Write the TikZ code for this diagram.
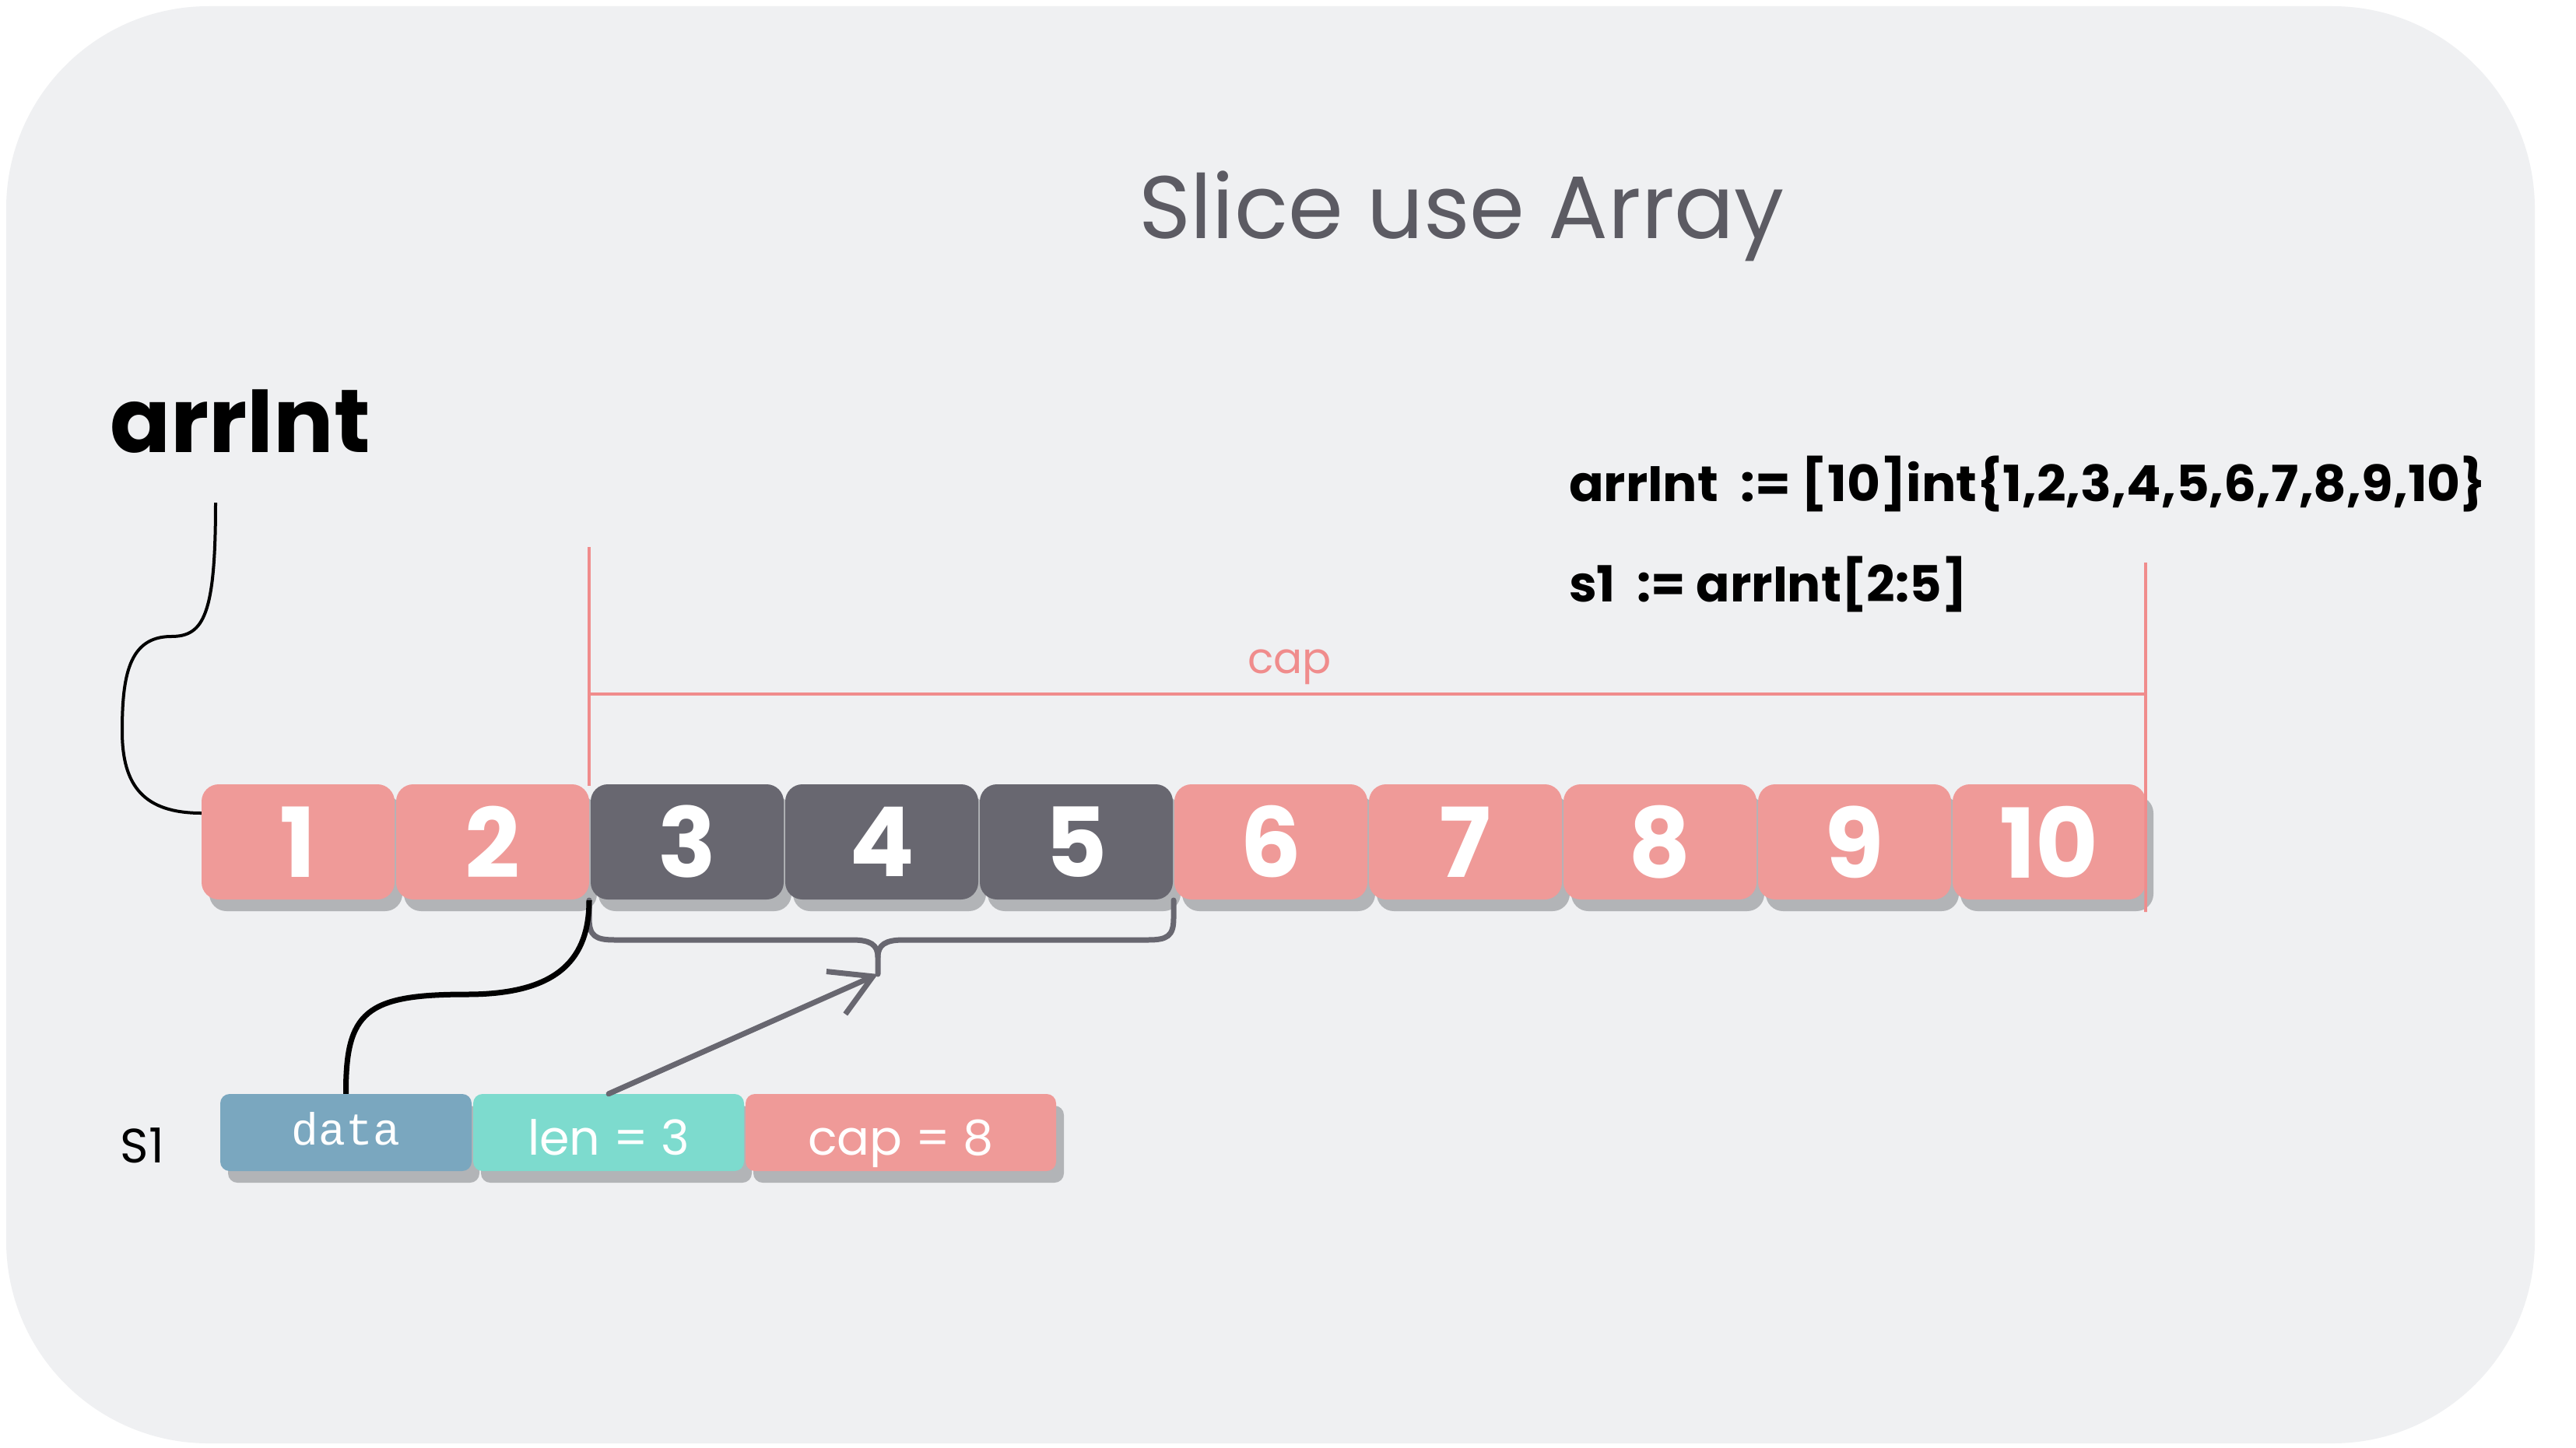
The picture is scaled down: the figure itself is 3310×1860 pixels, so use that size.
\documentclass[tikz,border=0pt]{standalone}
\usepackage{fontspec}
\setmainfont{Poppins}
\newfontfamily\monof{Liberation Mono}
\usetikzlibrary{arrows.meta,shadows}
\definecolor{bgc}{RGB}{239,240,242}
\definecolor{pinkc}{RGB}{239,154,152}
\definecolor{darkc}{RGB}{104,103,112}
\definecolor{shadc}{RGB}{178,180,183}
\definecolor{tealc}{RGB}{125,219,206}
\definecolor{bluec}{RGB}{122,167,191}
\definecolor{titlec}{RGB}{92,91,99}
\definecolor{capc}{RGB}{240,140,140}
\tikzset{
  shad/.style={drop shadow={shadow xshift=10pt,shadow yshift=-15pt,fill=shadc,opacity=1}},
  arrbox/.style={rounded corners=22pt,minimum width=248pt,minimum height=148pt,inner sep=0pt,
    text=white,font=\fontsize{124}{130}\selectfont\bfseries,shad},
  sbox/.style={rounded corners=12pt,minimum height=99pt,inner sep=0pt,text=white,shad},
  capline/.style={draw=capc,line width=3.5pt},
  bracec/.style={draw=darkc,line width=7pt,line cap=round,line join=round},
}
\begin{document}
\begin{tikzpicture}[x=1pt,y=-1pt]
\useasboundingbox (0,0) rectangle (3310,1860);
\fill[white] (0,0) rectangle (3310,1860);
\fill[bgc,rounded corners=260pt] (8,8) rectangle (3257,1855);

% title and labels
\node[text=titlec,font=\fontsize{114}{130}\selectfont,anchor=base] (title) at (1878,306) {Slice use Array};
\node[font=\fontsize{115}{130}\selectfont\bfseries,anchor=base west,inner sep=0pt] (arrint) at (141,581) {arrInt};
\node[font=\fontsize{64}{70}\selectfont\bfseries,anchor=base west,inner sep=0pt] (code1) at (2016,644) {\scalebox{1.03}[1]{arrInt\hspace{14pt} := [10]int\{1,2,3,4,5,6,7,8,9,10\}}};
\node[font=\fontsize{64}{70}\selectfont\bfseries,anchor=base west,inner sep=0pt] (code2) at (2016,773) {s1\hspace{14pt} := arrInt[2:5]};

% cap dimension lines
\coordinate (capTL) at (757,703);
\coordinate (capBL) at (757,1010);
\coordinate (capTR) at (2757,723);
\coordinate (capBR) at (2757,1172);
\coordinate (capML) at (757,892);
\coordinate (capMR) at (2757,892);
\draw[capline] (capTL) -- (capBL);
\draw[capline] (capTR) -- (capBR);
\draw[capline] (capML) -- (capMR);
\node[text=capc,font=\fontsize{55}{60}\selectfont] (caplbl) at (1657,857) {cap};

% array boxes
\node[arrbox,fill=pinkc] (a1) at (383,1082) {1};
\node[arrbox,fill=pinkc] (a2) at (633,1082) {2};
\node[arrbox,fill=darkc] (a3) at (883,1082) {3};
\node[arrbox,fill=darkc] (a4) at (1133,1082) {4};
\node[arrbox,fill=darkc] (a5) at (1383,1082) {5};
\node[arrbox,fill=pinkc] (a6) at (1633,1082) {6};
\node[arrbox,fill=pinkc] (a7) at (1883,1082) {7};
\node[arrbox,fill=pinkc] (a8) at (2133,1082) {8};
\node[arrbox,fill=pinkc] (a9) at (2383,1082) {9};
\node[arrbox,fill=pinkc] (a10) at (2633,1082) {10};
\draw[capline] ([yshift=-2pt]a10.east |- capMR) -- (capBR);

% arrInt connector
\coordinate (arrTail) at (277,646);
\draw[line width=4pt] (arrTail) .. controls (277,790) and (262,818) .. (220,818)
  .. controls (165,818) and (157,870) .. (157,940)
  .. controls (157,1010) and (185,1045) .. ([yshift=37pt]a1.west);

% slice header boxes
\node[font=\fontsize{62}{66}\selectfont,anchor=center] (s1lbl) at (183,1472) {S1};
\node[sbox,fill=bluec,minimum width=323pt,text height=31pt,text depth=0pt,font=\monof\fontsize{58}{62}\selectfont] (data) at (444.5,1455.5) {data};
\node[sbox,fill=tealc,minimum width=348pt,text height=57pt,text depth=0pt,font=\fontsize{62}{66}\selectfont] (len) at (782,1455.5) {len = 3};
\node[sbox,fill=pinkc,minimum width=399pt,text height=57pt,text depth=0pt,font=\fontsize{62}{66}\selectfont] (cap) at (1157.5,1455.5) {cap = 8};

% brace under 3..5
\coordinate (brL) at (757,1157);
\coordinate (brR) at (1508,1157);
\coordinate (brTip) at (1128,1252);
\draw[bracec] (brL) -- (757,1180) .. controls (757,1203) and (765,1208) .. (790,1208) -- (1095,1208)
  .. controls (1118,1208) and (1128,1214) .. (1128,1230) -- (brTip);
\draw[bracec] (brR) -- (1508,1180) .. controls (1508,1203) and (1500,1208) .. (1475,1208) -- (1161,1208)
  .. controls (1138,1208) and (1128,1214) .. (1128,1230);

% data pointer
\draw[line width=7pt] (data.north) .. controls (444,1300) and (470,1278) .. (600,1278)
  .. controls (720,1278) and (757,1230) .. (brL);

% len arrow
\draw[draw=darkc,line width=7pt,line cap=round,-{Straight Barb[length=52pt,width=60pt,line width=7pt]}] (len.north) -- (brTip);
\end{tikzpicture}
\end{document}
